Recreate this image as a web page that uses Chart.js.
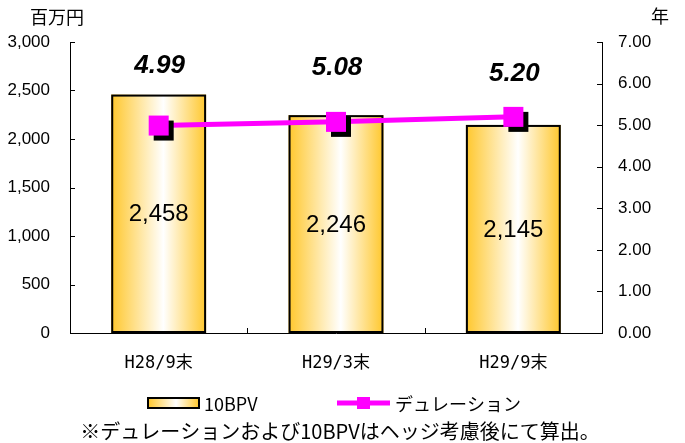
<!DOCTYPE html>
<html>
<head>
<meta charset="utf-8">
<script src="https://cdn.jsdelivr.net/npm/chart.js@4/dist/chart.umd.min.js"></script>
<style>
  html, body { margin: 0; padding: 0; background: #fff; }
  #wrap { width: 685px; height: 443px; position: relative; }
</style>
</head>
<body>
<div id="wrap"><canvas id="bpvChart" width="685" height="443"></canvas></div>
<script>
const periods   = ['H28/9末', 'H29/3末', 'H29/9末'];
const bpv10     = [2458, 2246, 2145];          // 百万円
const duration  = [4.99, 5.08, 5.20];          // 年
const leftTicks  = [0, 500, 1000, 1500, 2000, 2500, 3000];
const rightTicks = [0, 1, 2, 3, 4, 5, 6, 7];

// vertical nudge of the duration labels above each marker
const durLabelLift = [60, 54, 43];

const GOLD = '#FFC72C';
const MAGENTA = '#FF00FF';
const BAR_PCT = 0.535;
const SANS = '"Liberation Sans", Arial, sans-serif';
const JP = '"Noto Sans CJK JP", sans-serif';

function barGradient(ctx, x0, x1) {
  const g = ctx.createLinearGradient(x0, 0, x1, 0);
  g.addColorStop(0, GOLD);
  g.addColorStop(0.55, '#FFFFFF');
  g.addColorStop(1, GOLD);
  return g;
}

// square marker with a black drop shadow
function makeMarker() {
  const c = document.createElement('canvas');
  c.width = 32; c.height = 32;
  const m = c.getContext('2d');
  m.fillStyle = '#000';
  m.fillRect(11, 11, 20, 20);
  m.fillStyle = MAGENTA;
  m.fillRect(6, 6, 20, 20);
  return c;
}

// draw each bar with its own horizontal gold-white-gold fill
const barShading = {
  id: 'barShading',
  beforeDatasetDraw(chart, args) {
    if (args.index !== 1) return;
    const ctx = chart.ctx;
    args.meta.data.forEach(bar => {
      const { x, y, base, width } = bar.getProps(['x', 'y', 'base', 'width'], true);
      const x0 = x - width / 2, x1 = x + width / 2;
      ctx.save();
      ctx.fillStyle = barGradient(ctx, x0, x1);
      ctx.fillRect(x0, y, width, base - y);
      ctx.lineWidth = 2;
      ctx.strokeStyle = '#000';
      ctx.strokeRect(x0 + 1, y + 1, width - 2, base - y - 2);
      ctx.restore();
    });
    return false;
  }
};

const chartDecor = {
  id: 'chartDecor',
  afterDraw(chart) {
    const { ctx, chartArea: { left, right, top, bottom }, scales } = chart;
    ctx.save();

    // inward tick marks
    ctx.strokeStyle = '#000';
    ctx.lineWidth = 1;
    ctx.beginPath();
    leftTicks.forEach(v => {
      const y = Math.round(scales.y.getPixelForValue(v)) + 0.5;
      ctx.moveTo(left, y); ctx.lineTo(left + 5, y);
    });
    rightTicks.forEach(v => {
      const y = Math.round(scales.y2.getPixelForValue(v)) + 0.5;
      ctx.moveTo(right, y); ctx.lineTo(right - 5, y);
    });
    const step = (right - left) / periods.length;
    for (let i = 1; i < periods.length; i++) {
      const x = Math.round(left + step * i) + 0.5;
      ctx.moveTo(x, bottom); ctx.lineTo(x, bottom - 5);
    }
    ctx.stroke();

    // bar values
    const barMeta = chart.getDatasetMeta(1);
    ctx.fillStyle = '#000';
    ctx.textAlign = 'center';
    ctx.textBaseline = 'middle';
    ctx.font = '24px ' + SANS;
    barMeta.data.forEach((bar, i) => {
      ctx.fillText(bpv10[i].toLocaleString('en-US'), bar.x, (bar.y + bar.base) / 2 + 1);
    });

    // duration values
    const lineMeta = chart.getDatasetMeta(0);
    ctx.font = 'italic bold 26px ' + SANS;
    lineMeta.data.forEach((pt, i) => {
      ctx.fillText(duration[i].toFixed(2), pt.x + 1, pt.y - durLabelLift[i]);
    });

    // unit captions
    ctx.font = '18px ' + JP;
    ctx.fillText('百万円', 57, 17);
    ctx.fillText('年', 660, 16);

    // legend
    ctx.fillStyle = barGradient(ctx, 148, 199);
    ctx.fillRect(148, 398, 51, 10);
    ctx.lineWidth = 2;
    ctx.strokeStyle = '#000';
    ctx.strokeRect(148, 398, 51, 10);
    ctx.fillStyle = '#000';
    ctx.textAlign = 'left';
    ctx.font = '18px ' + JP;
    ctx.fillText('10BPV', 204, 404);

    ctx.strokeStyle = MAGENTA;
    ctx.lineWidth = 5;
    ctx.beginPath(); ctx.moveTo(337, 403); ctx.lineTo(390, 403); ctx.stroke();
    ctx.fillStyle = MAGENTA;
    ctx.fillRect(357, 397, 13, 12);
    ctx.fillStyle = '#000';
    ctx.fillText('デュレーション', 395, 404);

    // footnote
    ctx.textAlign = 'center';
    ctx.font = '20px ' + JP;
    ctx.fillText('※デュレーションおよび10BPVはヘッジ考慮後にて算出。', 340, 431);

    ctx.restore();
  }
};

new Chart(document.getElementById('bpvChart'), {
  data: {
    labels: periods,
    datasets: [
      {
        type: 'line',
        label: 'デュレーション',
        data: duration,
        yAxisID: 'y2',
        borderColor: MAGENTA,
        borderWidth: 5,
        pointStyle: makeMarker(),
        pointRadius: 10,
        tension: 0,
        order: 0
      },
      {
        type: 'bar',
        label: '10BPV',
        data: bpv10,
        yAxisID: 'y',
        backgroundColor: GOLD,
        borderColor: '#000',
        borderWidth: 2,
        categoryPercentage: 1,
        barPercentage: BAR_PCT,
        order: 1
      }
    ]
  },
  options: {
    responsive: false,
    animation: false,
    layout: { padding: { top: 42 } },
    plugins: {
      legend: { display: false },
      tooltip: { enabled: false }
    },
    scales: {
      x: {
        grid: { display: false, drawTicks: false },
        border: { display: true, color: '#000', width: 1 },
        ticks: {
          color: '#000',
          padding: 20,
          font: { family: '"DejaVu Sans Mono", "Noto Sans CJK JP", monospace', size: 17 }
        },
        afterFit(s) { s.height = 110; }
      },
      y: {
        position: 'left',
        min: 0, max: 3000,
        afterBuildTicks(s) { s.ticks = leftTicks.map(v => ({ value: v })); },
        grid: { display: false, drawTicks: false },
        border: { display: true, color: '#000', width: 1 },
        ticks: {
          color: '#000',
          padding: 20,
          font: { family: SANS, size: 17 },
          callback: v => v.toLocaleString('en-US')
        },
        afterFit(s) { s.width = 70; }
      },
      y2: {
        position: 'right',
        min: 0, max: 7,
        afterBuildTicks(s) { s.ticks = rightTicks.map(v => ({ value: v })); },
        grid: { display: false, drawTicks: false },
        border: { display: true, color: '#000', width: 1 },
        ticks: {
          color: '#000',
          padding: 16,
          font: { family: SANS, size: 17 },
          callback: v => Number(v).toFixed(2)
        },
        afterFit(s) { s.width = 83; }
      }
    }
  },
  plugins: [barShading, chartDecor]
});
</script>
</body>
</html>
